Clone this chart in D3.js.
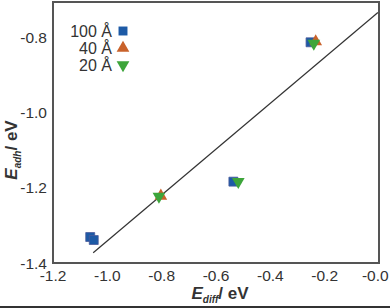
<!DOCTYPE html>
<html>
<head>
<meta charset="utf-8">
<script src="https://cdn.jsdelivr.net/npm/d3@7"></script>
<style>
  body { margin: 0; background: #fff; }
  text { font-family: "Liberation Sans", Arial, sans-serif; fill: #333; }
</style>
</head>
<body>
<div id="chart"></div>
<script>
// ======= DATA =======
const xTicks = [-1.2, -1.0, -0.8, -0.6, -0.4, -0.2, 0.0];
const xTickLabels = ["-1.2", "-1.0", "-0.8", "-0.6", "-0.4", "-0.2", "-0.0"];
const yTicks = [-1.4, -1.2, -1.0, -0.8];
const yTickLabels = ["-1.4", "-1.2", "-1.0", "-0.8"];

// [E_diff, E_adh]
const pts100 = [[-1.063, -1.331], [-1.05, -1.339], [-0.536, -1.184], [-0.252, -0.814]];
const pts40 = [[-0.803, -1.222], [-0.233, -0.812]];
const pts20 = [[-0.81, -1.223], [-0.518, -1.184], [-0.24, -0.817]];
const fitLine = [[-1.052, -1.373], [-0.004, -0.735]];

const legendLabels = ["100 Å", "40 Å", "20 Å"];

// ======= SETUP =======
const width = 390, height = 308;
const svg = d3.select("#chart").append("svg")
  .attr("width", width).attr("height", height);

const x = d3.scaleLinear().domain([-1.2, 0]).range([53, 379]);
const y = d3.scaleLinear().domain([-1.4, -0.707]).range([263, 2]);

// frame
svg.append("rect")
  .attr("x", x.range()[0]).attr("y", y.range()[1])
  .attr("width", x.range()[1] - x.range()[0])
  .attr("height", y.range()[0] - y.range()[1])
  .attr("fill", "none").attr("stroke", "#555").attr("stroke-width", 2);

// bottom border of image
svg.append("line")
  .attr("x1", 0).attr("x2", width).attr("y1", 307).attr("y2", 307)
  .attr("stroke", "#333").attr("stroke-width", 2);

// tick labels (no tick marks)
svg.selectAll(".xt").data(xTicks).enter().append("text")
  .attr("x", d => x(d)).attr("y", 281)
  .attr("text-anchor", "middle").attr("font-size", 15.5)
  .text((d, i) => xTickLabels[i])
  .each(function () {
    // keep the last label inside the picture
    const b = this.getBBox();
    if (b.x + b.width > width - 1) d3.select(this).attr("x", +d3.select(this).attr("x") - (b.x + b.width - width + 1));
  });

svg.selectAll(".yt").data(yTicks).enter().append("text")
  .attr("x", 47).attr("y", d => y(d) + 5.5)
  .attr("text-anchor", "end").attr("font-size", 15.5)
  .text((d, i) => yTickLabels[i]);

// axis titles
const xt = svg.append("text").attr("x", 220).attr("y", 299)
  .attr("text-anchor", "middle").attr("font-size", 17).attr("font-weight", "bold");
xt.append("tspan").attr("font-style", "italic").text("E");
xt.append("tspan").attr("font-style", "italic").attr("font-size", 10).attr("dy", 4).text("diff");
xt.append("tspan").attr("dy", -4).text("/ eV");

const yt = svg.append("text").attr("transform", "translate(17,150) rotate(-90)")
  .attr("text-anchor", "middle").attr("font-size", 17).attr("font-weight", "bold");
yt.append("tspan").attr("font-style", "italic").text("E");
yt.append("tspan").attr("font-style", "italic").attr("font-size", 10).attr("dy", 4).text("adh");
yt.append("tspan").attr("dy", -4).text("/ eV");

// fit line
svg.append("path")
  .attr("d", d3.line().x(d => x(d[0])).y(d => y(d[1]))(fitLine))
  .attr("fill", "none").attr("stroke", "#333").attr("stroke-width", 1.2);

// markers
const sq = d3.symbol().type(d3.symbolSquare).size(80);
const tri = d3.symbol().type(d3.symbolTriangle).size(70);

svg.selectAll(".p100").data(pts100).enter().append("path")
  .attr("d", sq)
  .attr("transform", d => `translate(${x(d[0])},${y(d[1])})`)
  .attr("fill", "#1d5aa6").attr("stroke", "#4a5a9a").attr("stroke-width", 0.8);

svg.selectAll(".p40").data(pts40).enter().append("path")
  .attr("d", tri)
  .attr("transform", d => `translate(${x(d[0])},${y(d[1])})`)
  .attr("fill", "#c9622b");

svg.selectAll(".p20").data(pts20).enter().append("path")
  .attr("d", tri)
  .attr("transform", d => `translate(${x(d[0])},${y(d[1])}) rotate(180)`)
  .attr("fill", "#3da53a");

// legend
const legendY = [31, 48, 65];
const legendMarkers = [
  { shape: sq, fill: "#1d5aa6", rot: 0 },
  { shape: tri, fill: "#c9622b", rot: 0 },
  { shape: tri, fill: "#3da53a", rot: 180 }
];
legendLabels.forEach((lab, i) => {
  svg.append("text").attr("x", 112).attr("y", legendY[i] + 6)
    .attr("text-anchor", "end").attr("font-size", 16).text(lab);
  svg.append("path").attr("d", legendMarkers[i].shape)
    .attr("transform", `translate(123,${legendY[i]}) rotate(${legendMarkers[i].rot})`)
    .attr("fill", legendMarkers[i].fill);
});
</script>
</body>
</html>
